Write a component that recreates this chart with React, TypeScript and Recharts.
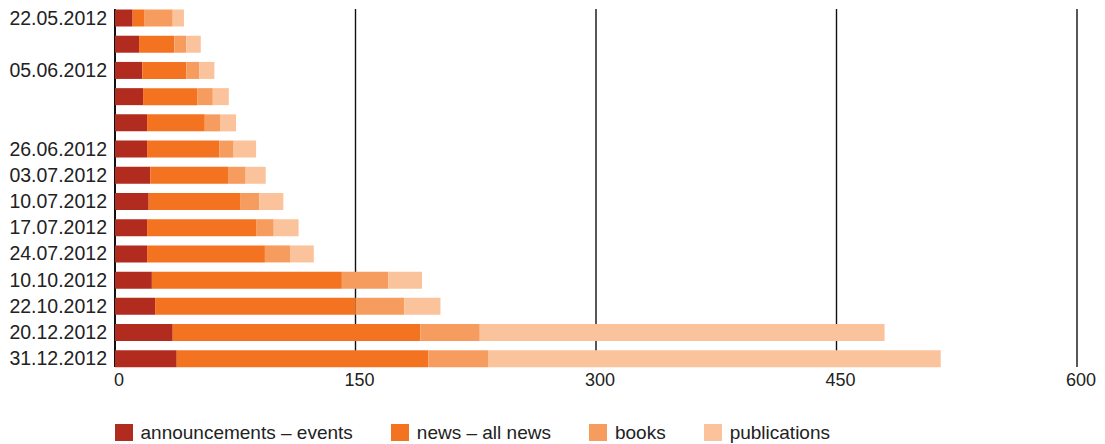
import React from "react";
import { BarChart, Bar, XAxis, YAxis, CartesianGrid, Legend } from "recharts";

// week labels (blank rows have no label in the source)
const categories = [
  "22.05.2012",
  "",
  "05.06.2012",
  "",
  "",
  "26.06.2012",
  "03.07.2012",
  "10.07.2012",
  "17.07.2012",
  "24.07.2012",
  "10.10.2012",
  "22.10.2012",
  "20.12.2012",
  "31.12.2012",
];

const announcements = [11, 15, 17, 17.5, 20, 20, 22, 21, 20, 20, 23, 25, 36, 38.5];
const news = [7.5, 22, 27.5, 34, 36, 45, 48.5, 57, 68, 73.5, 118.5, 125, 154.5, 157];
const books = [17.5, 7.5, 8, 9.5, 9.5, 9, 11, 12, 11, 16, 29, 30.5, 37, 37.5];
const publications = [7, 9, 9.5, 10, 10, 14, 12.5, 15, 15.5, 14.5, 21, 22.5, 252.5, 282];

const xTicks = [0, 150, 300, 450, 600];

const SERIES = [
  { key: "announcements", name: "announcements – events", color: "#b22b1f" },
  { key: "news", name: "news – all news", color: "#f47321" },
  { key: "books", name: "books", color: "#f69c5f" },
  { key: "publications", name: "publications", color: "#fbc39c" },
];

const FONT = "'Liberation Sans', Arial, Helvetica, sans-serif";

const data = categories.map((label, i) => ({
  id: i,
  label,
  announcements: announcements[i],
  news: news[i],
  books: books[i],
  publications: publications[i],
}));

function GridLine(props: any) {
  // grid lines only span the bars, not the band padding
  const { x1, x2, y1, y2 } = props;
  const isZero = Math.abs(x1 - 115) < 1;
  return (
    <line
      x1={x1}
      x2={x2}
      y1={y1 + 4.6}
      y2={y2 - 4.6}
      stroke="#111"
      strokeWidth={isZero ? 2 : 1.4}
    />
  );
}

function LegendContent() {
  return (
    <div
      style={{
        display: "flex",
        alignItems: "center",
        height: 17,
        lineHeight: "17px",
        fontFamily: FONT,
        fontSize: 19,
        color: "#222",
      }}
    >
      {SERIES.map((s) => (
        <div key={s.key} style={{ display: "flex", alignItems: "center", marginRight: 38.5 }}>
          <span style={{ display: "inline-block", width: 18, height: 17, background: s.color, marginRight: 7.5 }} />
          <span>{s.name}</span>
        </div>
      ))}
    </div>
  );
}

export default function App() {
  return (
    <div style={{ margin: "-8px -8px 0 -8px", width: 1105, height: 444, background: "#fff" }}>
      <BarChart
        width={1105}
        height={444}
        data={data}
        layout="vertical"
        barSize={17}
        margin={{ top: 4.5, right: 28, left: 8, bottom: 25.5 }}
      >
        <CartesianGrid horizontal={false} vertical={(p: any) => <GridLine {...p} />} />
        <XAxis
          type="number"
          domain={[0, 600]}
          ticks={xTicks}
          axisLine={false}
          tickLine={false}
          tickSize={1}
          tickMargin={1}
          tick={{ fontSize: 18, fill: "#222", fontFamily: FONT, dx: 4 }}
          height={30}
        />
        <YAxis
          type="category"
          dataKey="id"
          width={107}
          axisLine={false}
          tickLine={false}
          interval={0}
          tickFormatter={(v: number) => categories[v]}
          tick={{ fontSize: 19.5, fill: "#222", fontFamily: FONT }}
        />
        <Legend
          verticalAlign="bottom"
          align="left"
          content={<LegendContent />}
          wrapperStyle={{ left: 115, top: 424, bottom: "auto", width: 900, height: 17 }}
        />
        {SERIES.map((s) => (
          <Bar key={s.key} dataKey={s.key} name={s.name} stackId="a" fill={s.color} isAnimationActive={false} />
        ))}
      </BarChart>
    </div>
  );
}
